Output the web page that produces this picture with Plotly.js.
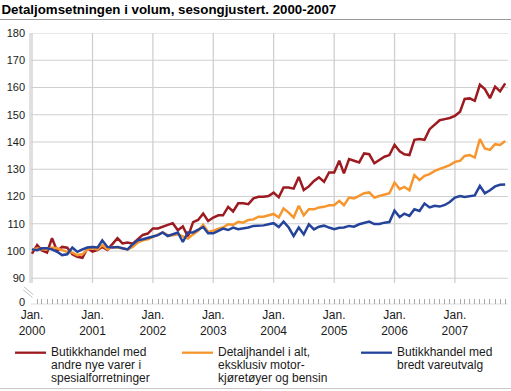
<!DOCTYPE html>
<html>
<head>
<meta charset="utf-8">
<script src="https://cdn.plot.ly/plotly-3.0.1.min.js"></script>
<style>html,body{margin:0;padding:0;background:#fff;}#chart{width:511px;height:391px;}</style>
</head>
<body>
<div id="chart"></div>
<script>
// ---- Data (monthly, Jan 2000 – Nov 2007) ----
const startYear = 2000;
const nMonths = 95;
const spesial = [99.0,102.2,100.2,99.4,104.7,100.0,101.5,101.2,98.8,97.9,97.5,101.0,
  99.8,100.4,101.5,100.4,102.5,104.7,102.8,103.1,102.7,104.3,105.9,106.4,
  108.3,108.3,108.8,109.6,110.2,107.6,109.0,105.3,110.6,111.4,113.7,111.0,
  112.3,113.1,113.1,116.2,114.5,117.5,117.5,117.2,119.3,119.9,119.9,120.2,
  121.4,119.7,123.3,123.3,122.9,127.2,122.4,123.7,125.7,127.0,125.4,128.8,
  128.8,133.1,128.5,133.7,133.1,132.5,135.8,135.5,132.2,133.5,134.6,135.2,
  139.0,136.6,135.5,135.2,140.8,141.1,140.8,144.7,146.3,148.0,148.4,148.8,
  149.6,151.1,155.8,156.0,155.1,161.0,159.4,156.1,160.3,158.6,161.5];
const detalj = [100.3,101.0,100.6,100.6,101.3,101.0,100.3,99.7,99.4,98.5,98.8,100.6,
  101.0,100.6,102.2,100.6,101.5,101.3,101.0,100.6,101.5,103.1,103.9,104.3,
  105.1,106.1,106.8,105.8,105.8,106.1,105.3,104.6,106.1,107.4,109.6,107.0,
  107.4,108.2,108.6,109.8,109.6,110.7,110.4,111.4,111.6,112.6,112.6,113.1,
  113.6,112.3,115.6,114.1,112.3,116.6,113.1,115.3,115.3,116.0,116.2,116.8,
  116.8,118.4,116.8,119.6,119.3,120.2,121.2,121.5,119.6,120.2,120.8,121.2,
  125.1,122.7,123.5,122.3,127.9,126.0,127.6,128.2,129.4,130.0,130.7,131.5,
  132.7,133.1,134.9,135.2,134.3,141.1,137.6,137.1,139.2,138.9,140.4];
const bredt = [100.6,100.3,101.0,101.0,100.6,99.7,98.5,98.8,101.3,99.7,100.6,101.3,
  101.5,101.3,103.9,101.5,101.3,101.5,101.0,100.6,102.5,103.9,104.3,104.9,
  105.3,105.8,106.8,105.5,106.1,106.8,103.3,106.8,106.8,107.7,108.8,106.5,
  106.5,107.4,108.2,107.7,108.6,108.0,108.2,108.6,109.2,109.2,109.4,109.8,
  110.2,108.8,110.8,108.6,105.5,108.6,106.1,109.8,107.9,108.9,109.3,108.6,
  108.0,108.5,108.6,109.2,108.9,109.8,110.4,110.8,109.9,109.9,110.4,110.6,
  114.8,112.5,113.7,112.9,115.3,114.7,117.4,116.0,116.6,116.3,116.9,118.0,
  119.6,120.2,119.8,120.2,120.4,123.9,121.2,122.3,123.7,124.3,124.4];
const seriesLines = [
  ["Butikkhandel med","andre nye varer i","spesialforretninger"],
  ["Detaljhandel i alt,","eksklusiv motor-","kjøretøyer og bensin"],
  ["Butikkhandel med","bredt vareutvalg"]
];
const seriesColors = ["#9b1b20","#f7962e","#24439a"];
const yTickVals = [90,100,110,120,130,140,150,160,170,180];
const yearTicks = [2000,2001,2002,2003,2004,2005,2006,2007];
const titleText = "Detaljomsetningen i volum, sesongjustert. 2000-2007";

// ---- Helpers ----
const dates = [];
for (let m = 0; m < nMonths; m++) {
  const y = startYear + Math.floor(m / 12);
  const mo = (m % 12) + 1;
  dates.push(y + "-" + (mo < 10 ? "0" + mo : mo) + "-01");
}
const W = 511, H = 391, L = 31, R = 3, T = 33, B = 87;
const pw = W - L - R, ph = H - T - B;
const px = p => (p - L) / pw;
const py = p => (H - B - p) / ph;
const FONT = "Liberation Sans, Arial, Helvetica, sans-serif";
const yMin = 80.55, yMax = 180;
const zeroPos = 81.15;

const allSeries = [spesial, detalj, bredt];
const traces = allSeries.map((vals, i) => ({
  x: dates, y: vals, type: "scatter", mode: "lines",
  name: seriesLines[i].join(" "),
  line: {color: seriesColors[i], width: 2.5},
  showlegend: false, hoverinfo: "skip"
}));

const shapes = [];
const gridColor = "#cfcfcf";
yTickVals.forEach(v => shapes.push({type:"line", xref:"paper", yref:"y", x0:0, x1:1, y0:v, y1:v,
  line:{color:gridColor, width:1}, layer:"below"}));
yearTicks.forEach(yr => shapes.push({type:"line", xref:"x", yref:"y", x0:yr+"-01-01", x1:yr+"-01-01",
  y0:88.3, y1:yMax, line:{color:gridColor, width:1.3}, layer:"below"}));
shapes.push({type:"line", xref:"paper", yref:"y", x0:-0.002, x1:-0.002, y0:88.3, y1:yMax,
  line:{color:"#c4c4c4", width:1}, layer:"below"});
shapes.push({type:"line", xref:"paper", yref:"paper", x0:px(31), x1:1, y0:0, y1:0,
  line:{color:"#dddddd", width:1}, layer:"below"});
shapes.push({type:"line", xref:"paper", yref:"paper", x0:px(24), x1:px(33.3), y0:py(287), y1:py(294.7),
  line:{color:"#c0c0c0", width:1}});
shapes.push({type:"line", xref:"paper", yref:"paper", x0:px(23.3), x1:px(32.5), y0:py(289.9), y1:py(297.5),
  line:{color:"#c0c0c0", width:1}});
shapes.push({type:"line", xref:"paper", yref:"paper", x0:px(0), x1:px(511), y0:py(19.5), y1:py(19.5),
  line:{color:"#9a9a9a", width:1}});
shapes.push({type:"line", xref:"paper", yref:"paper", x0:px(0), x1:px(511), y0:py(388.5), y1:py(388.5),
  line:{color:"#c8c8c8", width:1}});

const legLineX = [[15,46],[182,213],[361,392]];
const legTextX = [49.5,216.5,395.5];
const legLineY = 352.7;
const legLineCenters = [352.3, 365.3, 378.3];
const annotations = [];
seriesLines.forEach((lines, i) => {
  shapes.push({type:"line", xref:"paper", yref:"paper", x0:px(legLineX[i][0]), x1:px(legLineX[i][1]),
    y0:py(legLineY), y1:py(legLineY), line:{color:seriesColors[i], width:2.3}});
  lines.forEach((t, j) => annotations.push({text:t, xref:"paper", yref:"paper", x:px(legTextX[i]),
    y:py(legLineCenters[j]), xanchor:"left", yanchor:"middle", showarrow:false, borderpad:0,
    font:{family:FONT, size:12, color:"#1a1a1a"}}));
});

const layout = {
  width: W, height: H,
  margin: {l:L, r:R, t:T, b:B, pad:0},
  paper_bgcolor: "#fff", plot_bgcolor: "#fff",
  font: {family: FONT, color: "#1a1a1a"},
  title: {text: titleText, xref:"container", yref:"container", x: 1.5/W, xanchor:"left",
    y: 1 - 5/H, yanchor:"top", font:{family:FONT, size:13.3, weight:"bold", color:"#000"}},
  xaxis: {
    type: "date", range: ["1999-12-26", "2007-11-18"],
    tickvals: yearTicks.map(y => y + "-01-01"),
    ticktext: yearTicks.map(y => "Jan.<br>" + y),
    showgrid: false, zeroline: false, showline: false,
    ticks: "inside", ticklen: 5, tickcolor: "#aaaaaa", tickwidth: 1,
    minor: {dtick: "M1", tick0: "2000-01-01", ticks: "inside", ticklen: 5, tickcolor: "#aaaaaa", tickwidth: 1, showgrid: false},
    tickfont: {family: FONT, size: 12, color: "#1a1a1a"},
    ticklabelstandoff: 2,
    fixedrange: true
  },
  yaxis: {
    range: [yMin, yMax],
    tickvals: [zeroPos].concat(yTickVals),
    ticktext: ["0"].concat(yTickVals.map(String)),
    showgrid: false, zeroline: false, showline: false, ticks: "",
    tickfont: {family: FONT, size: 11, color: "#1a1a1a"},
    ticklabelstandoff: 5,
    fixedrange: true
  },
  shapes: shapes,
  annotations: annotations,
  showlegend: false
};

Plotly.newPlot("chart", traces, layout, {displayModeBar: false, staticPlot: true});
</script>
</body>
</html>
